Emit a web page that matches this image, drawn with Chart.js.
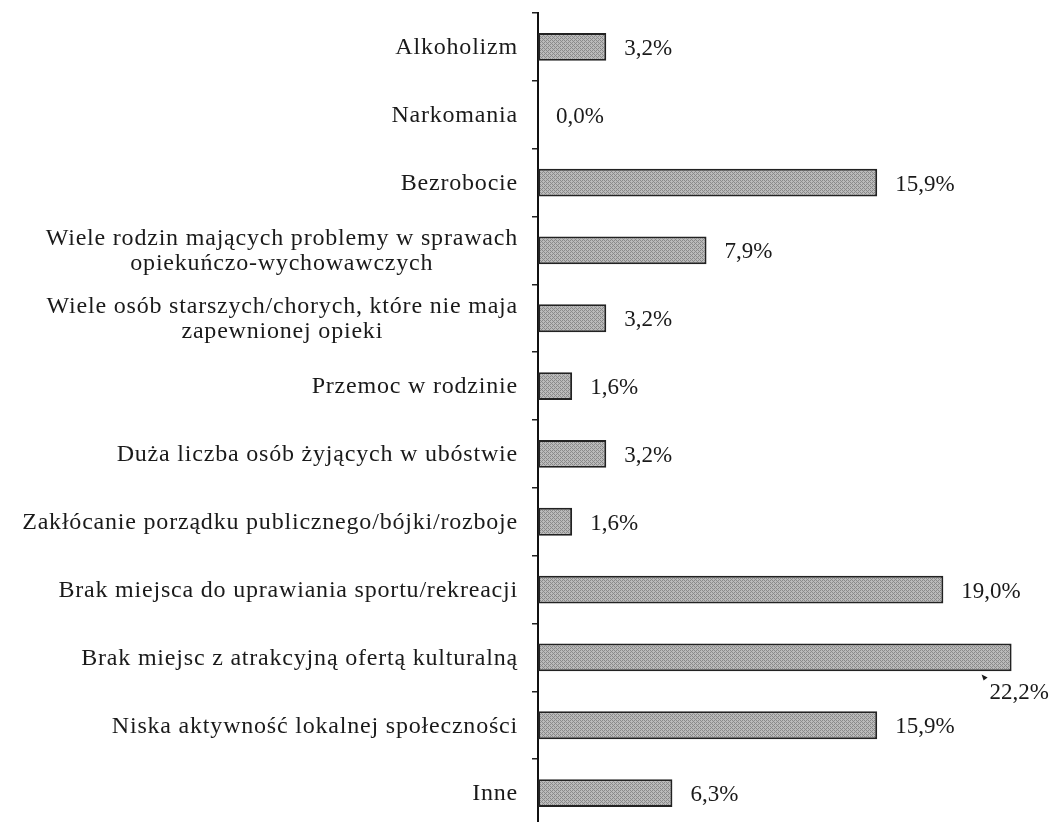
<!DOCTYPE html>
<html>
<head>
<meta charset="utf-8">
<script src="https://cdn.jsdelivr.net/npm/chart.js@4/dist/chart.umd.min.js"></script>
<style>
  html, body { margin: 0; padding: 0; background: #fff; overflow: hidden; }
  #wrap { position: relative; width: 1054px; height: 830px; }
</style>
</head>
<body>
<div id="wrap"><canvas id="c"></canvas></div>
<script>
const categories = [
  "Alkoholizm",
  "Narkomania",
  "Bezrobocie",
  ["Wiele rodzin mających problemy w sprawach", "opiekuńczo-wychowawczych"],
  ["Wiele osób starszych/chorych, które nie maja", "zapewnionej opieki"],
  "Przemoc w rodzinie",
  "Duża liczba osób żyjących w ubóstwie",
  "Zakłócanie porządku publicznego/bójki/rozboje",
  "Brak miejsca do uprawiania sportu/rekreacji",
  "Brak miejsc z atrakcyjną ofertą kulturalną",
  "Niska aktywność lokalnej społeczności",
  "Inne"
];
const values = [3.2, 0.0, 15.9, 7.9, 3.2, 1.6, 3.2, 1.6, 19.0, 22.2, 15.9, 6.3];

const FONT = "'Liberation Serif', 'Times New Roman', serif";
const CAT_FONT_SIZE = 24;
const VAL_FONT_SIZE = 23;
const TEXT_COLOR = "#1a1a1a";
const AXIS_X = 538;

// deterministic dithered grey pattern
function makePattern() {
  const p = document.createElement('canvas');
  p.width = 4; p.height = 4;
  const g = p.getContext('2d');
  const map = [
    [0,1,0,1],
    [1,0,1,1],
    [0,1,0,1],
    [1,1,1,0]
  ];
  for (let y = 0; y < 4; y++) for (let x = 0; x < 4; x++) {
    g.fillStyle = map[y][x] ? '#bababa' : '#8a8a8a';
    g.fillRect(x, y, 1, 1);
  }
  return g.createPattern(p, 'repeat');
}
const ctx0 = document.getElementById('c').getContext('2d');
const pattern = makePattern();

const categoryLabelPlugin = {
  id: 'categoryLabels',
  afterDraw(chart) {
    const ctx = chart.ctx;
    const y = chart.scales.y;
    const right = y.right - 20;
    ctx.save();
    ctx.font = CAT_FONT_SIZE + 'px ' + FONT;
    if ('letterSpacing' in ctx) ctx.letterSpacing = '0.8px';
    ctx.fillStyle = TEXT_COLOR;
    ctx.textBaseline = 'middle';
    ctx.textAlign = 'center';
    const lh = 25;
    categories.forEach((lab, i) => {
      const lines = Array.isArray(lab) ? lab : [lab];
      const w = Math.max(...lines.map(l => ctx.measureText(l).width));
      const cx = right - w / 2;
      const cy = y.getPixelForValue(i) + 1;
      const y0 = cy - (lines.length - 1) * lh / 2;
      lines.forEach((l, k) => ctx.fillText(l, cx, y0 + k * lh));
    });
    ctx.restore();
  }
};

const valueLabelPlugin = {
  id: 'valueLabels',
  afterDatasetsDraw(chart) {
    const ctx = chart.ctx;
    const meta = chart.getDatasetMeta(0);
    ctx.save();
    ctx.font = VAL_FONT_SIZE + 'px ' + FONT;
    ctx.fillStyle = TEXT_COLOR;
    ctx.textBaseline = 'middle';
    ctx.textAlign = 'left';
    meta.data.forEach((bar, i) => {
      const txt = values[i].toFixed(1).replace('.', ',') + '%';
      const w = ctx.measureText(txt).width;
      let x = bar.x + 18;
      let yy = bar.y + 2;
      if (x + w > chart.width) {
        // label does not fit: place it under the bar end with a small leader mark
        x = bar.x - 22;
        yy = bar.y + 36;
        ctx.beginPath();
        ctx.moveTo(bar.x - 30, bar.y + 17);
        ctx.lineTo(bar.x - 24, bar.y + 20);
        ctx.lineTo(bar.x - 28, bar.y + 23);
        ctx.closePath();
        ctx.fill();
      }
      ctx.fillText(txt, x, yy);
    });
    ctx.restore();
  }
};

new Chart(ctx0, {
  type: 'bar',
  data: {
    labels: categories,
    datasets: [{
      data: values,
      backgroundColor: pattern,
      borderColor: '#222',
      borderWidth: 2,
      borderSkipped: false,
      barPercentage: 0.41,
      categoryPercentage: 1.0
    }]
  },
  options: {
    indexAxis: 'y',
    responsive: true,
    maintainAspectRatio: false,
    animation: false,
    devicePixelRatio: 1,
    layout: { padding: { top: 13, bottom: 3, left: 0, right: 4 } },
    plugins: { legend: { display: false }, tooltip: { enabled: false } },
    scales: {
      x: { display: false, min: 0, max: 24 },
      y: {
        afterFit(scale) { scale.width = AXIS_X; },
        grid: {
          offset: true,
          drawOnChartArea: false,
          drawTicks: true,
          tickLength: 6,
          color: '#222',
          lineWidth: 1.5
        },
        border: { display: true, color: '#111', width: 2 },
        ticks: { display: false, autoSkip: false }
      }
    }
  },
  plugins: [categoryLabelPlugin, valueLabelPlugin]
});
</script>
</body>
</html>
